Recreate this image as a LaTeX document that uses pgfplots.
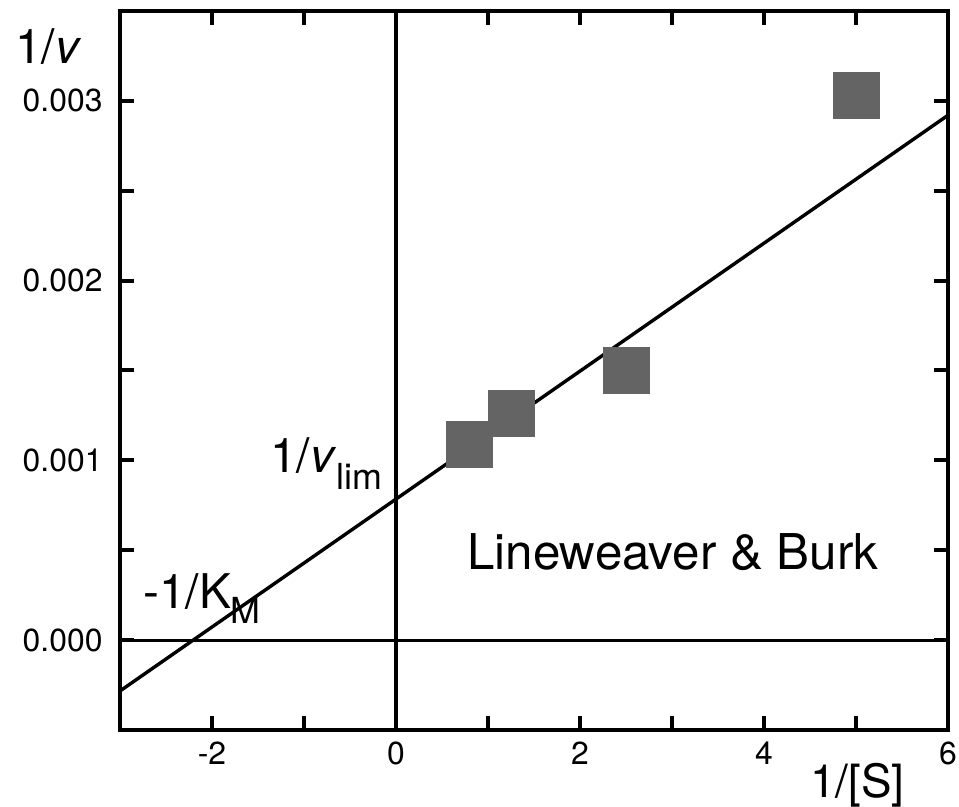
\documentclass[border=0pt]{standalone}
\usepackage{fontspec}
\setmainfont{TeX Gyre Heros}
\usepackage{pgfplots}
\pgfplotsset{compat=1.18}
\definecolor{markgray}{RGB}{100,100,100}
\begin{document}
\begin{tikzpicture}
\begin{axis}[
  at={(0,0)}, anchor=south west,
  width=828bp, height=719bp, scale only axis,
  xmin=-3, xmax=6, ymin=-0.0005, ymax=0.0035,
  axis line style={line width=4bp},
  tick style={line width=4bp, black},
  major tick length=14bp,
  tick align=inside,
  xtick={-2,-1,0,1,2,3,4,5,6},
  xticklabels={-2,,0,,2,,4,,6},
  ytick={0,0.0005,0.001,0.0015,0.002,0.0025,0.003},
  yticklabels={0.000,,0.001,,0.002,,0.003},
  ticklabel style={font=\fontsize{32}{38}\selectfont},
  xticklabel style={yshift=-8bp},
  yticklabel style={xshift=-14bp},
  clip=false,
]
\draw[line width=3.2bp] (axis cs:0,-0.0005) -- (axis cs:0,0.0035);
\draw[line width=3.2bp] (axis cs:-3,0) -- (axis cs:6,0);
\addplot[line width=3.4bp, black, no marks] coordinates {(-3,-0.000283) (6,0.00292)};
\addplot[markgray, only marks, mark=square*, mark size=23bp, mark options={fill=markgray, draw=none}] coordinates {
  (0.8,0.00109) (1.25,0.00126) (2.5,0.00150) (5.0,0.00303)
};
\node[anchor=base west, font=\fontsize{48}{56}\selectfont, inner sep=0pt] at (axis cs:-4.14,0.003206) {1/\textit{v}};
\node[anchor=base west, font=\fontsize{46}{54}\selectfont, inner sep=0pt] at (axis cs:4.5,-0.000878) {1/[S]};
\node[anchor=base west, font=\fontsize{48}{56}\selectfont, inner sep=0pt] at (axis cs:-1.37,0.000933) {1/\textit{v}\raisebox{-17bp}{\fontsize{36}{40}\selectfont lim}};
\node[anchor=base west, font=\fontsize{48}{56}\selectfont, inner sep=0pt] at (axis cs:-2.75,0.000178) {-1/K\raisebox{-15bp}{\fontsize{36}{40}\selectfont M}};
\node[anchor=base west, font=\fontsize{49.5}{58}\selectfont, inner sep=0pt] at (axis cs:0.772,0.000394) {Lineweaver \& Burk};
\end{axis}
\pgfresetboundingbox
\path[use as bounding box] (-120bp,-77bp) rectangle (839bp,730bp);
\end{tikzpicture}
\end{document}
